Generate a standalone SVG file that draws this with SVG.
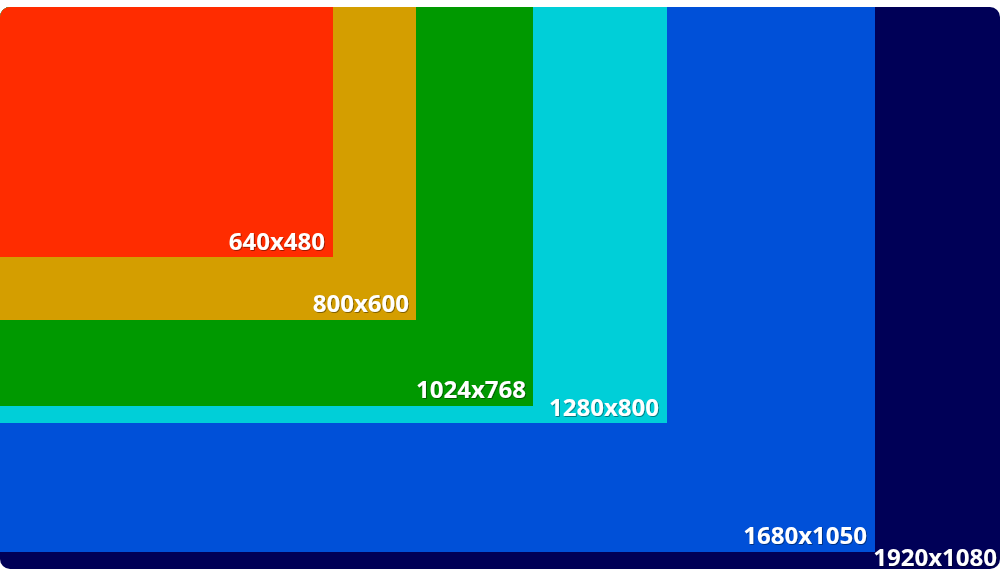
<svg xmlns="http://www.w3.org/2000/svg" width="1000" height="576" viewBox="0 0 1000 576">
<defs>
<clipPath id="c"><rect x="0" y="7" width="1000" height="562" rx="10" ry="10"/></clipPath>
<filter id="sh" x="-10%" y="-20%" width="120%" height="140%"><feDropShadow dx="0.8" dy="0.8" stdDeviation="0.6" flood-color="#000" flood-opacity="0.5"/></filter>
</defs>
<style>
text{font-family:"Open Sans","Noto Sans","Liberation Sans",sans-serif;font-weight:700;font-size:24px;fill:#fff;text-anchor:end;filter:url(#sh)}
</style>
<rect width="1000" height="576" fill="#fff"/>
<g clip-path="url(#c)">
<g id="r1920"><rect x="0" y="7" width="1000" height="562" fill="#000057"/><text x="997" y="566">1920x1080</text></g>
<g id="r1680"><rect x="0" y="7" width="875" height="545" fill="#0050d8"/><text x="867" y="544">1680x1050</text></g>
<g id="r1280"><rect x="0" y="7" width="667" height="416" fill="#00cfd8"/><text x="659" y="416">1280x800</text></g>
<g id="r1024"><rect x="0" y="7" width="533" height="399" fill="#009900"/><text x="526" y="398">1024x768</text></g>
<g id="r800"><rect x="0" y="7" width="416" height="313" fill="#d49e00"/><text x="409" y="312">800x600</text></g>
<g id="r640"><rect x="0" y="7" width="333" height="250" fill="#ff2c00"/><text x="325" y="250">640x480</text></g>
</g>
<g id="connectors"/>
</svg>
